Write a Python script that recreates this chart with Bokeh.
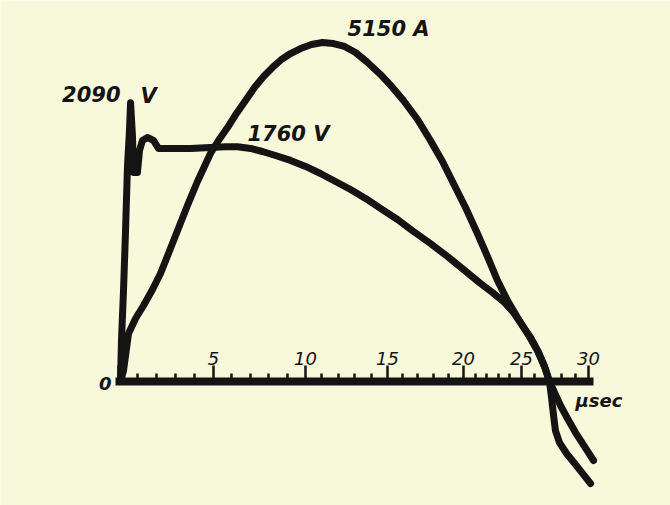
import numpy as np
from bokeh.plotting import figure
from bokeh.models import Range1d, LinearAxis, FixedTicker, Label
from bokeh.embed import file_html
from bokeh.resources import INLINE

# Time scale as lettered on the trace: µs marks and where they fall on the sweep
scale_us = [0, 5, 10, 15, 20, 25, 30]
scale_sweep = [0.0, 6.06, 11.94, 17.17, 22.02, 25.72, 30.0]

# Voltage trace (V) against sweep position
volt_sweep = [0.13, 0.19, 0.32, 0.45, 0.57, 0.70, 0.77, 0.89, 0.96, 1.21, 1.34,
              1.53, 1.85, 2.23, 2.55, 3.00, 4.60, 5.87, 6.83, 7.60, 8.43,
              9.19, 10.02, 10.98, 11.94, 12.89, 13.85, 14.81, 15.77, 16.72,
              17.81, 18.83, 19.91, 21.00, 22.02, 23.11, 23.87, 24.57, 25.21,
              25.72, 26.30, 26.81, 27.19, 27.51, 27.64, 27.77, 27.89, 28.15,
              28.60, 29.17, 29.68, 30.13]
volt_v = [0, 308, 683, 1133, 1605, 1883, 2090, 1845, 1568, 1568, 1733,
          1808, 1830, 1808, 1748, 1748, 1748, 1755, 1760, 1760, 1748,
          1725, 1695, 1658, 1613, 1560, 1500, 1440, 1373, 1298,
          1215, 1125, 1035, 938, 840, 735, 668, 600, 518,
          428, 330, 218, 113, 0, -120, -255, -368, -458,
          -540, -623, -698, -765]

# Current trace (A) against sweep position
amp_sweep = [0.13, 0.32, 0.64, 1.09, 1.60, 2.17, 2.68, 3.19, 3.77, 4.40, 5.04,
             5.87, 6.38, 6.96, 7.53, 8.11, 8.68, 9.26, 9.83, 10.40, 10.98,
             11.62, 12.32, 13.02, 13.72, 14.43, 15.13, 15.83, 16.72, 17.49,
             18.19, 19.09, 19.91, 20.68, 21.38, 22.15, 22.91, 23.55, 24.19,
             24.83, 25.47, 26.11, 26.74, 27.19, 27.51, 27.83, 28.21, 28.66,
             29.17, 29.74, 30.32]
amp_a = [0, 167, 729, 957, 1154, 1397, 1641, 1944, 2294, 2673, 3038,
         3463, 3661, 3858, 4071, 4269, 4466, 4633, 4770, 4891, 4982,
         5058, 5119, 5150, 5134, 5089, 4998, 4861, 4664, 4466,
         4268, 3980, 3661, 3342, 3008, 2643, 2248, 1899, 1534,
         1230, 972, 729, 471, 228, 0, -167, -365, -562,
         -775, -987, -1200]

PAPER = "#F8F8DA"
INK = "#141414"
FONT = "DejaVu Sans"

p = figure(width=670, height=505, output_backend="svg", toolbar_location=None,
           x_axis_type=None, y_axis_type=None,
           x_range=Range1d(-7.532, 35.234), y_range=Range1d(-930, 2857.5),
           min_border=0, min_border_left=0, min_border_right=0,
           min_border_top=0, min_border_bottom=0,
           background_fill_color=PAPER, border_fill_color=PAPER,
           outline_line_color=None)
p.extra_y_ranges = {"amps": Range1d(-1883.6, 5787.4)}

# one-µs minor marks between the lettered ones
minor = []
for a, b in zip(scale_us[:-1], scale_us[1:]):
    for t in range(a + 1, b):
        minor.append(float(np.interp(t, scale_us, scale_sweep)))

time_axis = LinearAxis(
    fixed_location=0,
    ticker=FixedTicker(ticks=scale_sweep, minor_ticks=minor),
    major_label_overrides={s: ("" if u == 0 else str(u)) for s, u in zip(scale_sweep, scale_us)},
    bounds=(-0.2, 30.3),
    axis_line_width=8, axis_line_color=INK,
    major_tick_out=16, major_tick_in=0, major_tick_line_width=2.5, major_tick_line_color=INK,
    minor_tick_out=8, minor_tick_in=0, minor_tick_line_width=2.5, minor_tick_line_color=INK,
    major_label_standoff=1,
    major_label_text_font=FONT, major_label_text_font_style="italic",
    major_label_text_font_size="18px", major_label_text_color=INK,
)
p.add_layout(time_axis, "above")

p.line(volt_sweep, volt_v, line_width=7, line_color=INK,
       line_join="round", line_cap="round")
p.line(amp_sweep, amp_a, y_range_name="amps", line_width=7, line_color=INK,
       line_join="round", line_cap="round")

lab = dict(text_font=FONT, text_font_style="bold italic", text_color=INK,
           text_baseline="alphabetic")
p.add_layout(Label(x=14.62, y=5347, y_range_name="amps", text="5150 A",
                   text_font_size="21px", **lab))
p.add_layout(Label(x=8.23, y=1860, text="1760 V", text_font_size="21px", **lab))
p.add_layout(Label(x=0.13, y=2153, text="2090", text_align="right",
                   text_font_size="21px", **lab))
p.add_layout(Label(x=1.40, y=2138, text="V", text_font_size="21px", **lab))
p.add_layout(Label(x=29.17, y=-142, text="µsec", text_font_size="18px", **lab))
p.add_layout(Label(x=-0.85, y=-18, text="0", text_align="center",
                   text_font_size="18px", **lab))

open("out.html", "w").write(file_html(p, INLINE))
